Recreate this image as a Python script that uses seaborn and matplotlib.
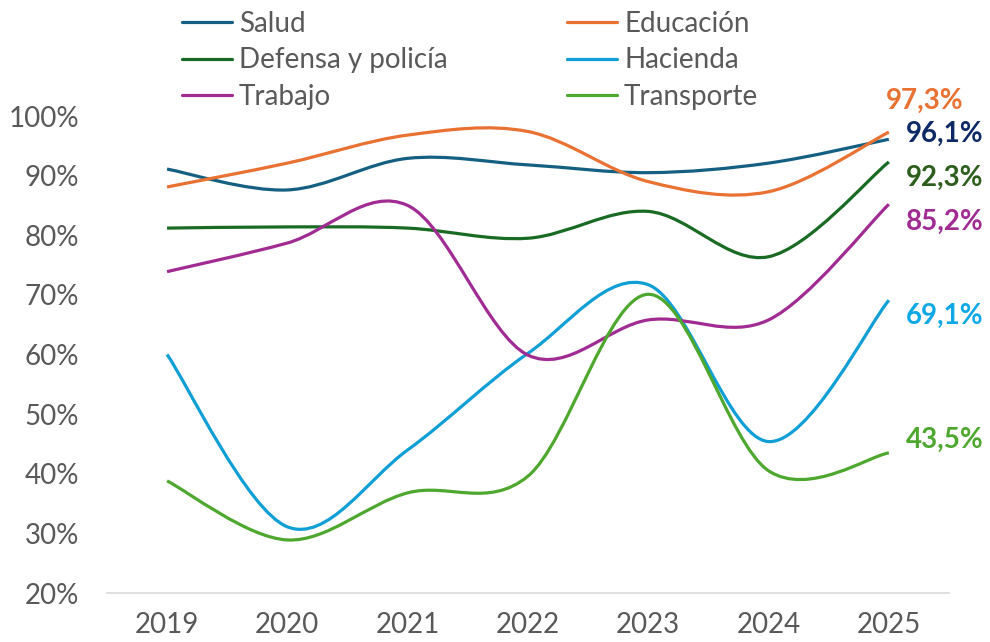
import numpy as np
import pandas as pd
import matplotlib
matplotlib.use("Agg")
import matplotlib.pyplot as plt
from matplotlib.path import Path
from matplotlib.patches import PathPatch
from matplotlib.lines import Line2D
from matplotlib.ticker import FuncFormatter
import seaborn as sns

# -------- DATA (in %) --------
years = [2019, 2020, 2021, 2022, 2023, 2024, 2025]
salud = [91.1, 87.6, 92.9, 91.8, 90.5, 92.1, 96.1]
educacion = [88.1, 92.1, 96.8, 97.4, 89.0, 87.3, 97.3]
defensa = [81.2, 81.4, 81.2, 79.5, 84.0, 76.4, 92.3]
hacienda = [60.0, 31.1, 44.0, 60.2, 71.7, 45.4, 69.1]
trabajo = [73.9, 78.7, 85.0, 59.9, 65.8, 65.8, 85.2]
transporte = [38.8, 28.9, 36.8, 39.6, 70.1, 40.5, 43.5]

series_names = ["Salud", "Educación", "Defensa y policía", "Hacienda", "Trabajo", "Transporte"]
series_values = [salud, educacion, defensa, hacienda, trabajo, transporte]
end_labels = ["96,1%", "97,3%", "92,3%", "69,1%", "85,2%", "43,5%"]

# -------- STYLE --------
line_colors = {
    "Salud": "#156082",
    "Educación": "#E97132",
    "Defensa y policía": "#196B24",
    "Hacienda": "#0F9ED5",
    "Trabajo": "#A02B93",
    "Transporte": "#4EA72E",
}
label_colors = {
    "Salud": "#0E2A66",
    "Educación": "#E97132",
    "Defensa y policía": "#2E5E1E",
    "Hacienda": "#0FA8E6",
    "Trabajo": "#A02B93",
    "Transporte": "#4EA72E",
}
# label offsets from the last point, in pixels (dx, dy, ha)
label_offsets = {
    "Salud": (17, 5, "left"),
    "Educación": (36, 31, "center"),
    "Defensa y policía": (17, -16, "left"),
    "Hacienda": (17, -16, "left"),
    "Trabajo": (17, -18, "left"),
    "Transporte": (17, 13, "left"),
}

df = pd.DataFrame({
    "Año": years * len(series_names),
    "Valor": [v for vals in series_values for v in vals],
    "Serie": [n for n in series_names for _ in years],
})

sns.set_theme(style="white")
plt.rcParams["font.family"] = ["Lato", "DejaVu Sans"]
text_gray = "#595959"


def smooth_path(x, y):
    # Excel-like smoothed line: cubic Bezier segments with Catmull-Rom control points
    x = np.asarray(x, dtype=float)
    y = np.asarray(y, dtype=float)
    n = len(x)
    verts = [(x[0], y[0])]
    codes = [Path.MOVETO]
    for i in range(n - 1):
        i0 = max(i - 1, 0)
        i3 = min(i + 2, n - 1)
        c1 = (x[i] + (x[i + 1] - x[i0]) / 6, y[i] + (y[i + 1] - y[i0]) / 6)
        c2 = (x[i + 1] - (x[i3] - x[i]) / 6, y[i + 1] - (y[i3] - y[i]) / 6)
        verts += [c1, c2, (x[i + 1], y[i + 1])]
        codes += [Path.CURVE4] * 3
    return Path(verts, codes)


fig = plt.figure(figsize=(9.9, 6.42), dpi=100)
ax = fig.add_axes([0.108, 0.0763, 0.8506, 0.743])

# invisible seaborn layer sets up the axes from the data
sns.lineplot(data=df, x="Año", y="Valor", hue="Serie", palette=line_colors,
             linewidth=0, legend=False, ax=ax)

for name, vals in zip(series_names, series_values):
    patch = PathPatch(smooth_path(years, vals), facecolor="none",
                      edgecolor=line_colors[name], linewidth=2.3,
                      capstyle="butt", joinstyle="round", clip_on=False)
    ax.add_patch(patch)

for name, vals, lab in zip(series_names, series_values, end_labels):
    dx, dy, ha = label_offsets[name]
    ax.annotate(lab, xy=(years[-1], vals[-1]), xytext=(dx, dy),
                textcoords="offset pixels", ha=ha, va="center",
                fontsize=20, fontweight="bold", color=label_colors[name],
                annotation_clip=False)

ax.set_xlim(years[0] - 0.5, years[-1] + 0.5)
ax.set_ylim(20, 100)
ax.set_yticks(range(20, 101, 10))
ax.set_xticks(years)
ax.yaxis.set_major_formatter(FuncFormatter(lambda v, p: f"{v:.0f}%"))
ax.tick_params(axis="both", length=0, labelsize=20, labelcolor=text_gray)
ax.tick_params(axis="y", pad=20)
ax.tick_params(axis="x", pad=14)
ax.set_xlabel("")
ax.set_ylabel("")
ax.grid(False)
for side in ["left", "right", "top"]:
    ax.spines[side].set_visible(False)
ax.spines["bottom"].set_color("#D9D9D9")
ax.spines["bottom"].set_linewidth(1.2)

# legend: two columns, Salud/Defensa/Trabajo left, Educación/Hacienda/Transporte right
order = ["Salud", "Defensa y policía", "Trabajo", "Educación", "Hacienda", "Transporte"]
handles = [Line2D([0], [0], color=line_colors[n], linewidth=2.3) for n in order]
leg = fig.legend(handles, order, loc="upper left", bbox_to_anchor=(0.184, 0.983),
                 ncol=2, frameon=False, fontsize=20, handlelength=1.8,
                 handletextpad=0.25, columnspacing=4.3, labelspacing=0.38,
                 borderaxespad=0, borderpad=0)
for t in leg.get_texts():
    t.set_color(text_gray)

fig.savefig("out.png", dpi=100)
